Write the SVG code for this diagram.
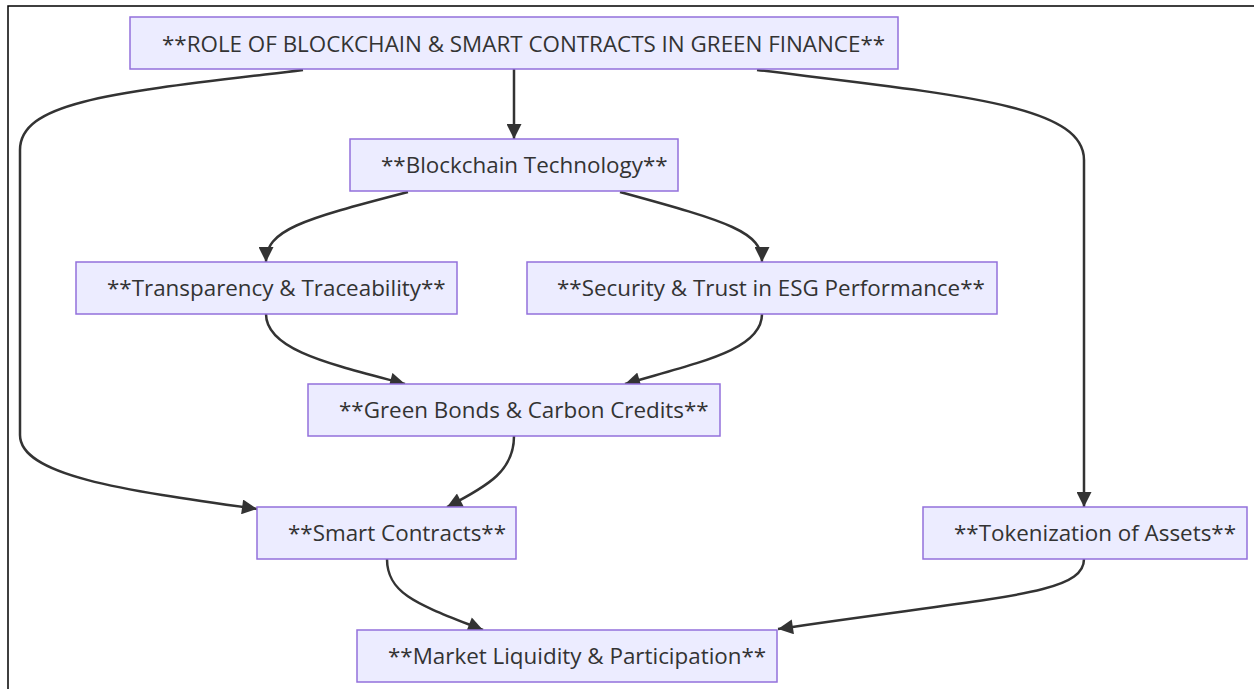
<svg xmlns="http://www.w3.org/2000/svg" width="1254" height="689" viewBox="0 0 1254 689">
  <style>
    .node rect { fill: #ECECFF; stroke: #9370DB; stroke-width: 1.5; }
    .node text { font-family: "Open Sans", "Noto Sans", "Liberation Sans", sans-serif; font-size: 22.4px; fill: #333333; }
    .edge { fill: none; stroke: #333333; stroke-width: 2.5; marker-end: url(#arrow); }
    .frame { stroke: #000000; stroke-width: 1.5; fill: none; }
  </style>
  <defs>
    <marker id="arrow" viewBox="0 0 10 10" refX="10" refY="5" markerUnits="userSpaceOnUse" markerWidth="16" markerHeight="15" orient="auto">
      <path d="M0,0 L10,5 L0,10 z" fill="#333333"/>
    </marker>
  </defs>
  <rect width="1254" height="689" fill="#ffffff"/>
  <path class="frame" d="M8,689 L8,6 L1254,6"/>

  <g id="connectors">
    <path class="edge" d="M514,69 L514,139"/>
    <path class="edge" d="M303,70 C120,92 20,100 20,150 L20,435 C20,475 120,490 257,509"/>
    <path class="edge" d="M757,70 C960,95 1084,105 1084,160 L1084,507"/>
    <path class="edge" d="M408,192 C300,220 266,230 266,262"/>
    <path class="edge" d="M620,192 C730,222 762,232 762,262"/>
    <path class="edge" d="M266,314 C266,350 330,364 405,384"/>
    <path class="edge" d="M762,314 C762,350 700,362 625,384"/>
    <path class="edge" d="M514,436 C514,470 490,485 447,507"/>
    <path class="edge" d="M387,559 C387,595 420,605 483,630"/>
    <path class="edge" d="M1084,559 C1084,595 1000,596 778,629"/>
  </g>

  <g id="root" class="node">
    <rect x="130" y="17" width="768" height="52"/>
    <text x="162" y="52">**ROLE OF BLOCKCHAIN &amp; SMART CONTRACTS IN GREEN FINANCE**</text>
  </g>
  <g id="blockchain" class="node">
    <rect x="350" y="139" width="328" height="52"/>
    <text x="381" y="173">**Blockchain Technology**</text>
  </g>
  <g id="transparency" class="node">
    <rect x="76" y="262" width="381" height="52"/>
    <text x="107" y="296">**Transparency &amp; Traceability**</text>
  </g>
  <g id="security" class="node">
    <rect x="527" y="262" width="470" height="52"/>
    <text x="557" y="296">**Security &amp; Trust in ESG Performance**</text>
  </g>
  <g id="green" class="node">
    <rect x="308" y="384" width="412" height="52"/>
    <text x="339" y="418">**Green Bonds &amp; Carbon Credits**</text>
  </g>
  <g id="smart" class="node">
    <rect x="257" y="507" width="259" height="52"/>
    <text x="288" y="541">**Smart Contracts**</text>
  </g>
  <g id="tokenization" class="node">
    <rect x="923" y="507" width="324" height="52"/>
    <text x="954" y="541">**Tokenization of Assets**</text>
  </g>
  <g id="market" class="node">
    <rect x="357" y="630" width="420" height="52"/>
    <text x="388" y="664">**Market Liquidity &amp; Participation**</text>
  </g>
</svg>
